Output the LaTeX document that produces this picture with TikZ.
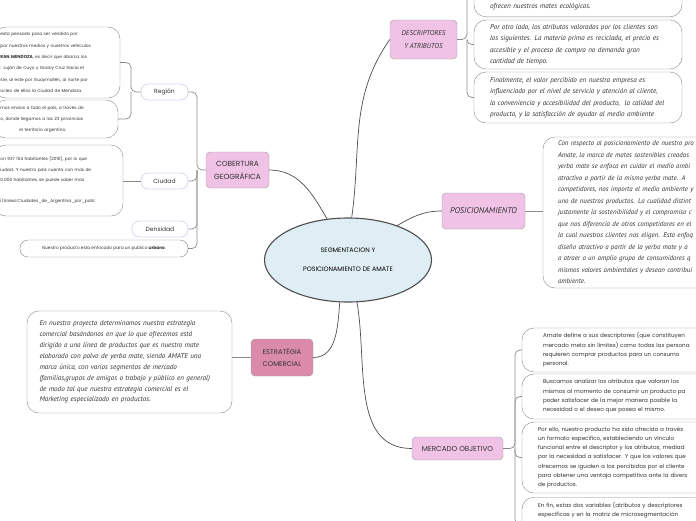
\documentclass[tikz,border=0pt]{standalone}
\usepackage{fontspec}
\setmainfont{Poppins}
\newfontfamily\handfont{PT Sans}
\usetikzlibrary{shapes.geometric}
\definecolor{ctrblue}{HTML}{DFEDF4}
\definecolor{topicpink}{HTML}{EFC2E6}
\definecolor{stratpink}{HTML}{DB8BA9}
\definecolor{linkgray}{HTML}{4D4D4D}
\definecolor{notegray}{HTML}{8A8A8A}
\definecolor{sublav}{HTML}{DAD4EE}
\definecolor{txtgray}{HTML}{333333}
\begin{document}
\begin{tikzpicture}[
    x=1pt, y=1pt,
    center/.style={ellipse, draw=linkgray, line width=1.1pt, fill=ctrblue,
      minimum width=167pt, minimum height=84pt, inner sep=0pt, align=center,
      font=\fontsize{6.4}{19}\selectfont},
    topic/.style={draw=gray!75, fill=topicpink, rounded corners=4pt, align=center,
      inner sep=2pt, text=txtgray},
    note/.style={draw=notegray, fill=white, rounded corners=12pt, align=left,
      inner ysep=4pt, text=txtgray},
    leaf/.style={draw=sublav, line width=0.8pt, fill=white, rounded corners=7pt,
      inner sep=1pt, minimum height=16pt, text=txtgray, font=\fontsize{6}{7}\selectfont},
    hand/.style={font=\handfont\itshape\fontsize{7.1}{11.5}\selectfont},
    small/.style={font=\fontsize{4.3}{11.4}\selectfont},
    body/.style={font=\fontsize{5.6}{9.3}\selectfont},
    mainlink/.style={draw=linkgray, line width=0.7pt},
    sublink/.style={draw=notegray, line width=0.7pt, rounded corners=5pt},
  ]
    \useasboundingbox (0,0) rectangle (696,-520);

    % --- Centre ---
    \node[center] (ctr) at (348,-260) {SEGMENTACION Y\\POSICIONAMIENTO DE AMATE};

    % --- Topics ---
    \node[topic, minimum width=63pt, minimum height=36pt,
      font=\fontsize{7.4}{13}\selectfont] (cob) at (237.5,-170) {COBERTURA\\GEOGRÁFICA};
    \node[topic, minimum width=67pt, minimum height=39pt,
      font=\handfont\itshape\fontsize{7}{13}\selectfont] (desc) at (423.5,-39.5) {DESCRIPTORES\\Y ATRIBUTOS};
    \node[topic, minimum width=83pt, minimum height=36pt,
      font=\handfont\itshape\fontsize{8.4}{9}\selectfont] (pos) at (483.5,-211) {POSICIONAMIENTO};
    \node[topic, minimum width=91pt, minimum height=23pt,
      font=\fontsize{7.2}{9}\selectfont] (merc) at (457.5,-448.5) {MERCADO OBJETIVO};
    \node[topic, fill=stratpink, minimum width=62pt, minimum height=37pt,
      font=\fontsize{6.8}{12}\selectfont] (estr) at (282,-357.5) {ESTRATÉGIA\\COMERCIAL};

    % --- Links from the centre ---
    \draw[mainlink] (ctr.117) to[out=120, in=0] (cob.east);
    \draw[mainlink] (ctr.85) to[out=82, in=235] (desc.west);
    \draw[mainlink] (ctr.35) to[out=30, in=180] (pos.west);
    \draw[mainlink] (ctr.259) to[out=-95, in=0] (estr.east);
    \draw[mainlink] (ctr.282) to[out=-80, in=180] (merc.west);

    % --- Cobertura geografica ---
    \node[leaf, minimum width=47pt] (reg) at (164.5,-92) {Región};
    \node[leaf, minimum width=47pt] (ciu) at (164.5,-181) {Ciudad};
    \node[leaf, minimum width=56pt] (dens) at (160,-229) {Densidad};
    \node[note, small, rounded corners=8pt, minimum width=168pt, minimum height=17pt,
      inner sep=1pt, align=center] (urb) at (104,-248.5)
      {Nuestro producto esta enfocado para un publico \textbf{urbano}.};
    \coordinate (cobj) at (197,-170);
    \draw[sublink] (cob.west) -- (cobj) |- (reg.east);
    \draw[sublink] (cobj) |- (ciu.east);
    \draw[sublink] (cobj) |- (dens.east);
    \draw[sublink] (cobj) |- (urb.east);

    \node[note, small, text width=113pt, inner xsep=6.5pt, minimum height=71pt] (reg1) at (57,-62.5)
      {esta pensado para ser vendido por\\
       por nuestros medios y nuestros vehículos\\
       \textbf{RAN MENDOZA}, es decir que abarca los\\
       : Luján de Cuyo y Godoy Cruz hacia el\\
       ste, al este por Guaymallén, al norte por\\
       úcleo de ellos la Ciudad de Mendoza.};
    \node[note, small, text width=111pt, inner xsep=6.5pt, minimum height=38pt,
      font=\fontsize{4.3}{11}\selectfont] (reg2) at (56,-119)
      {mos envios a todo el país, a través de\\
       o, donde llegamos a las 23 provincias\\
       \hspace*{19pt}el territorio argentino.};
    \coordinate (regj) at (131,-92);
    \draw[sublink] (reg.west) -- (regj) |- (reg1.east);
    \draw[sublink] (regj) |- (reg2.east);

    \node[note, small, text width=116pt, inner xsep=6.5pt, minimum height=71pt,
      font=\fontsize{4.3}{10.5}\selectfont] (ciu1) at (58.5,-180.5)
      {on 937 154 habitantes (2010), por lo que\\
       iudad. Y nuestro país cuenta con mas de\\
       0.000 habitantes, se puede saber mas\\[10.5pt]
       i/Anexo:Ciudades\_de\_Argentina\_por\_pobl};
    \draw[sublink] (ciu.west) -- (ciu.west -| ciu1.east);

    % --- Descriptores y atributos ---
    \node[note, hand, text width=180pt, inner xsep=14pt, inner ysep=6pt,
      text height=34pt, text depth=2pt, anchor=south] (d1) at (578,-17)
      {\hspace*{2pt}ofrecen nuestros mates ecológicos.};
    \node[note, hand, text width=180pt, inner xsep=14pt, minimum height=47pt] (d2) at (578,-44.5)
      {\hspace*{2pt}Por otro lado, los atributos valorados por los clientes son\\
       \hspace*{2pt}los siguientes. La materia prima es reciclada, el precio es\\
       \hspace*{2pt}accesible y el proceso de compra no demanda gran\\
       \hspace*{2pt}cantidad de tiempo.};
    \node[note, hand, text width=180pt, inner xsep=14pt, minimum height=51pt] (d3) at (578,-97.5)
      {\hspace*{2pt}Finalmente, el valor percibido en nuestra empresa es\\
       \hspace*{2pt}influenciado por el nivel de servicio y atención al cliente,\\
       \hspace*{2pt}la conveniencia y accesibilidad del producto,~ la calidad del\\
       \hspace*{2pt}producto, y la satisfacción de ayudar al medio ambiente};
    \coordinate (descj) at (467,-39.5);
    \draw[sublink] (desc.east) -- (descj) |- (d1.west);
    \draw[sublink] (descj) |- (d2.west);
    \draw[sublink] (descj) |- (d3.west);

    % --- Posicionamiento ---
    \node[note, hand, text width=230pt, inner xsep=15pt, minimum height=151pt,
      font=\handfont\itshape\fontsize{6.9}{11.5}\selectfont] (pos1) at (673,-212.5)
      {Con respecto al posicionamiento de nuestro pro\\
       Amate, la marca de mates sostenibles creados\\
       yerba mate se enfoca en cuidar el medio ambi\\
       atractivo a partir de la misma yerba mate. A\\
       competidores, nos importa el medio ambiente y\\
       uno de nuestros productos. La cualidad distint\\
       justamente la sostenibilidad y el compromiso c\\
       que nos diferencia de otros competidores en el\\
       la cual nuestros clientes nos eligen. Esta enfoq\\
       diseño atractivo a partir de la yerba mate y a\\
       a atraer a un amplio grupo de consumidores q\\
       mismos valores ambientales y desean contribui\\
       ambiente.};
    \draw[sublink] (pos.east) -- (pos.east -| pos1.west);

    % --- Estrategia comercial ---
    \node[note, hand, text width=180pt, inner xsep=12.5pt, minimum height=102pt,
      font=\handfont\itshape\fontsize{7.1}{10.9}\selectfont] (estr1) at (129.5,-362)
      {En nuestro proyecto determinamos nuestra estrategia\\
       comercial basándonos en que lo que ofrecemos está\\
       dirigido a una línea de productos que es nuestro mate\\
       elaborado con polvo de yerba mate, siendo AMATE una\\
       marca única, con varios segmentos de mercado\\
       (familias,grupos de amigos o trabajo y público en general)\\
       de modo tal que nuestra estrategia comercial es el\\
       Marketing especializado en productos.};
    \draw[sublink] (estr.west) -- (estr.west -| estr1.east);

    % --- Mercado objetivo ---
    \node[note, body, text width=200pt, inner xsep=21pt, minimum height=44pt] (m1) at (643,-350)
      {Amate define a sus descriptores (que constituyen\\
       mercado meta sin límites) como todas las persona\\
       requieren comprar productos para un consumo\\
       personal.};
    \node[note, body, text width=200pt, inner xsep=21pt, minimum height=45pt] (m2) at (643,-396.5)
      {Buscamos analizar los atributos que valoran los\\
       mismos al momento de consumir un producto pa\\
       poder satisfacer de la mejor manera posible la\\
       necesidad o el deseo que posea el mismo.};
    \node[note, body, text width=210pt, inner xsep=16pt, minimum height=71pt] (m3) at (643,-457.5)
      {Por ello, nuestro producto ha sido ofrecido a través\\
       un formato específico, estableciendo un vínculo\\
       funcional entre el descriptor y los atributos, mediad\\
       por la necesidad a satisfacer. Y que los valores que\\
       ofrecemos se igualen a los percibidos por el cliente\\
       para obtener una ventaja competitiva ante la divers\\
       de productos.};
    \node[note, body, text width=210pt, inner xsep=16pt, inner ysep=5pt,
      text depth=40pt, anchor=north] (m4) at (643,-497)
      {En fin, estas dos variables (atributos y descriptores\\
       específicas y en la matriz de microsegmentación};
    \coordinate (mercj) at (515,-448.5);
    \draw[sublink] (merc.east) -- (mercj) |- (m1.west);
    \draw[sublink] (mercj) |- (m2.west);
    \draw[sublink] (mercj) |- (m3.west);
    \draw[sublink] (mercj) |- (m4.west);
\end{tikzpicture}
\end{document}
